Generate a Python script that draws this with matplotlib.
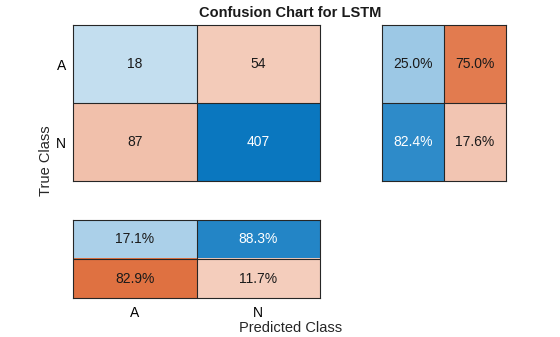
import numpy as np
from matplotlib import pyplot as plt

plt.rcParams['font.family'] = ['Liberation Sans', 'DejaVu Sans']

classes = ['A', 'N']
counts = np.array([[18, 54],
                   [87, 407]])
# row summary: correct %, incorrect %
row_pct = np.array([[25.0, 75.0],
                    [82.4, 17.6]])
# column summary: correct % on top, incorrect % below
col_pct = np.array([[17.1, 88.3],
                    [82.9, 11.7]])

BLUE = np.array([0, 114, 189]) / 255
ORANGE = np.array([217, 83, 25]) / 255


def cell_colors(t, good):
    # good cells blue, bad cells orange, blended with white by t
    base = np.where(good[..., None], BLUE, ORANGE)
    return 1 - t[..., None] * (1 - base)


def draw(ax, vals, labels, good, t):
    rgb = cell_colors(t, good)
    n_r, n_c = vals.shape
    ax.imshow(rgb, aspect='auto', extent=(-0.5, n_c - 0.5, n_r - 0.5, -0.5))
    for i in range(n_r):
        for j in range(n_c):
            white = good[i, j] and t[i, j] > 0.6
            ax.text(j, i, labels[i][j], ha='center', va='center', fontsize=10,
                    color='white' if white else '#1a1a1a')
    for k in range(1, n_c):
        ax.axvline(k - 0.5, color='#262626', lw=0.8)
    for k in range(1, n_r):
        ax.axhline(k - 0.5, color='#262626', lw=0.8)
    for s in ax.spines.values():
        s.set_color('#262626')
        s.set_linewidth(0.8)
    ax.set_xticks([])
    ax.set_yticks([])


fig = plt.figure(figsize=(5.6, 3.37), dpi=100)
ax_main = fig.add_axes([0.1304, 0.4629, 0.4411, 0.4629])
ax_row = fig.add_axes([0.682, 0.4629, 0.2214, 0.4629])
ax_col = fig.add_axes([0.1304, 0.1157, 0.4411, 0.2315])

diag = np.eye(2, dtype=bool)
t_counts = 0.2 + 0.76 * counts / counts.max()
draw(ax_main, counts, [[str(v) for v in r] for r in counts], diag, t_counts)
ax_main.set_yticks(range(len(classes)))
ax_main.set_yticklabels(classes, fontsize=10)
ax_main.tick_params(axis='y', length=0, pad=5)

row_good = np.array([[True, False], [True, False]])
draw(ax_row, row_pct, [[f'{v:.1f}%' for v in r] for r in row_pct], row_good,
     0.2 + 0.75 * row_pct / 100)

col_good = np.array([[True, True], [False, False]])
draw(ax_col, col_pct, [[f'{v:.1f}%' for v in r] for r in col_pct], col_good,
     0.2 + 0.75 * col_pct / 100)
ax_col.set_xticks(range(len(classes)))
ax_col.set_xticklabels(classes, fontsize=10)
ax_col.tick_params(axis='x', length=0, pad=6)

fig.text(0.518, 0.962, 'Confusion Chart for LSTM', ha='center', va='center',
         fontsize=10.5, fontweight='bold', color='#1a1a1a')
fig.text(0.082, 0.522, 'True Class', rotation=90, ha='center', va='center',
         fontsize=10.5, color='#262626')
fig.text(0.518, 0.026, 'Predicted Class', ha='center', va='center',
         fontsize=10.5, color='#262626')

fig.savefig('out.png', dpi=100)
